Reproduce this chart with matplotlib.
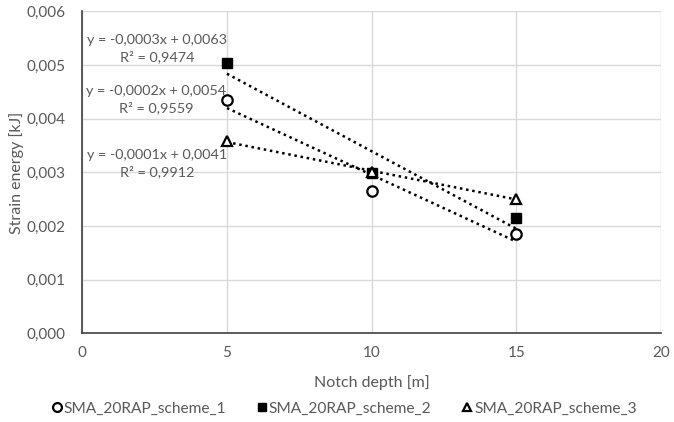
import matplotlib
matplotlib.use("Agg")
import matplotlib.pyplot as plt
import numpy as np
from matplotlib.ticker import FuncFormatter, MultipleLocator

plt.rcParams["font.family"] = ["Lato", "DejaVu Sans"]

notch_depth = [5, 10, 15]
scheme_1 = [0.00435, 0.00265, 0.00186]
scheme_2 = [0.00504, 0.00299, 0.00215]
scheme_3 = [0.00358, 0.00300, 0.00251]
labels = ["SMA_20RAP_scheme_1", "SMA_20RAP_scheme_2", "SMA_20RAP_scheme_3"]
equations = [
    "y = -0,0002x + 0,0054\nR² = 0,9559",
    "y = -0,0003x + 0,0063\nR² = 0,9474",
    "y = -0,0001x + 0,0041\nR² = 0,9912",
]
eq_pos = [(2.55, 0.00435), (2.6, 0.00530), (2.6, 0.00317)]

text_grey = "#595959"

fig = plt.figure(figsize=(6.74, 4.22), dpi=100)
ax = fig.add_axes([0.122, 0.21, 0.859, 0.763])

styles = [
    dict(marker="o", markerfacecolor="white", markeredgecolor="black", markersize=7.5, markeredgewidth=1.6),
    dict(marker="s", markerfacecolor="black", markeredgecolor="black", markersize=7),
    dict(marker="^", markerfacecolor="white", markeredgecolor="black", markersize=7.5, markeredgewidth=1.6),
]

x = np.array(notch_depth)
for series, style, label, eq, pos in zip([scheme_1, scheme_2, scheme_3], styles, labels, equations, eq_pos):
    y = np.array(series)
    ax.plot(x, y, linestyle="none", label=label, zorder=4, **style)
    # linear trendline through the points
    slope, intercept = np.polyfit(x, y, 1)
    ax.plot(x, slope * x + intercept, linestyle=(0, (1, 1.5)), color="black", linewidth=1.8, zorder=3)
    ax.text(pos[0], pos[1], eq, ha="center", va="center", fontsize=10.4, color=text_grey,
            linespacing=1.4, zorder=5)

ax.set_xlim(0, 20)
ax.set_ylim(0, 0.006)
ax.xaxis.set_major_locator(MultipleLocator(5))
ax.yaxis.set_major_locator(MultipleLocator(0.001))
ax.yaxis.set_major_formatter(FuncFormatter(lambda v, p: f"{v:.3f}".replace(".", ",")))
ax.grid(True, color="#d9d9d9", linewidth=1)
ax.set_axisbelow(True)

for side in ["top", "right"]:
    ax.spines[side].set_visible(False)
for side in ["left", "bottom"]:
    ax.spines[side].set_color("#404040")
    ax.spines[side].set_linewidth(1.2)

ax.tick_params(length=0, labelsize=11, colors=text_grey)
ax.tick_params(axis="y", pad=12)
ax.tick_params(axis="x", pad=9)
ax.set_xlabel("Notch depth [m]", fontsize=11.5, color=text_grey, labelpad=11)
ax.set_ylabel("Strain energy [kJ]", fontsize=11.5, color=text_grey, labelpad=2)

leg = fig.legend(loc="lower center", bbox_to_anchor=(0.511, -0.018), ncol=3, frameon=False,
                 fontsize=11.2, handletextpad=0.15, columnspacing=2.0, handlelength=0.6,
                 markerscale=0.85)
for t in leg.get_texts():
    t.set_color(text_grey)

fig.savefig("out.png", dpi=100)
